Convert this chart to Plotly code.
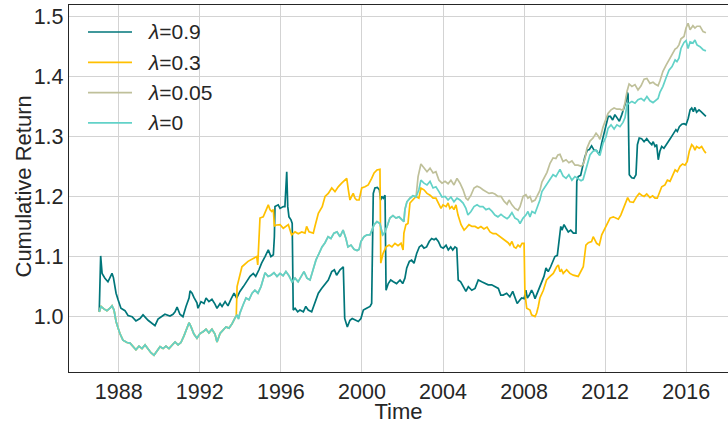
import plotly.graph_objects as go

# ---- data: cumulative return of four strategies (decimal years) ----
# lambda = 0  (also the common early path of lambda=0.3 and lambda=0.05)
t_l0 = [1987.04, 1987.13, 1987.27, 1987.42, 1987.57, 1987.67, 1987.77, 1987.87, 1987.97, 1988.06,
        1988.21, 1988.41, 1988.56, 1988.71, 1988.85, 1989.00, 1989.15, 1989.30, 1989.45, 1989.59,
        1989.74, 1989.89, 1990.04, 1990.19, 1990.33, 1990.48, 1990.63, 1990.78, 1990.93, 1991.07,
        1991.22, 1991.37, 1991.47, 1991.57, 1991.71, 1991.86, 1992.01, 1992.16, 1992.31, 1992.45,
        1992.60, 1992.75, 1992.85, 1993.00, 1993.15, 1993.29, 1993.44, 1993.59, 1993.74, 1993.84,
        1993.91, 1993.98, 1994.13, 1994.28, 1994.43, 1994.58, 1994.72, 1994.87, 1995.02, 1995.12,
        1995.22, 1995.37, 1995.51, 1995.66, 1995.81, 1995.96, 1996.11, 1996.25, 1996.40, 1996.55,
        1996.70, 1996.85, 1996.99, 1997.14, 1997.29, 1997.44, 1997.59, 1997.73, 1997.88, 1998.03,
        1998.18, 1998.33, 1998.47, 1998.62, 1998.77, 1998.92, 1999.07, 1999.21, 1999.31, 1999.46,
        1999.61, 1999.76, 1999.86, 1999.95, 2000.10, 2000.25, 2000.40, 2000.50, 2000.60, 2000.74,
        2000.89, 2001.02, 2001.09, 2001.24, 2001.38, 2001.53, 2001.68, 2001.83, 2001.98, 2002.07,
        2002.12, 2002.22, 2002.37, 2002.52, 2002.67, 2002.81, 2002.91, 2003.06, 2003.21, 2003.36,
        2003.51, 2003.65, 2003.80, 2003.95, 2004.10, 2004.25, 2004.39, 2004.54, 2004.69, 2004.84,
        2004.99, 2005.13, 2005.23, 2005.38, 2005.53, 2005.68, 2005.82, 2005.97, 2006.12, 2006.27,
        2006.42, 2006.56, 2006.71, 2006.86, 2007.01, 2007.16, 2007.26, 2007.40, 2007.55, 2007.70,
        2007.80, 2007.95, 2008.09, 2008.19, 2008.29, 2008.39, 2008.54, 2008.64, 2008.78, 2008.88,
        2009.03, 2009.13, 2009.28, 2009.43, 2009.57, 2009.67, 2009.77, 2009.92, 2010.07, 2010.21,
        2010.36, 2010.51, 2010.66, 2010.81, 2010.91, 2011.00, 2011.10, 2011.25, 2011.40, 2011.55,
        2011.65, 2011.74, 2011.89, 2012.04, 2012.14, 2012.29, 2012.44, 2012.58, 2012.73, 2012.88,
        2012.98, 2013.08, 2013.18, 2013.32, 2013.47, 2013.62, 2013.77, 2013.92, 2014.06, 2014.21,
        2014.36, 2014.46, 2014.61, 2014.70, 2014.85, 2015.00, 2015.15, 2015.30, 2015.45, 2015.54,
        2015.64, 2015.74, 2015.89, 2015.99, 2016.09, 2016.19, 2016.33, 2016.43, 2016.53, 2016.68,
        2016.83, 2016.97]
r_l0 = [1.008, 1.017, 1.013, 1.010, 1.014, 1.018, 1.011, 0.992, 0.981, 0.972,
        0.961, 0.957, 0.956, 0.950, 0.945, 0.951, 0.947, 0.953, 0.946, 0.940,
        0.936, 0.943, 0.950, 0.947, 0.951, 0.947, 0.953, 0.958, 0.953, 0.957,
        0.968, 0.983, 0.990, 0.983, 0.971, 0.964, 0.972, 0.975, 0.979, 0.973,
        0.979, 0.971, 0.958, 0.972, 0.978, 0.983, 0.981, 0.988, 0.998, 1.003,
        0.996, 1.006, 1.019, 1.031, 1.028, 1.039, 1.044, 1.039, 1.050, 1.061,
        1.073, 1.067, 1.069, 1.073, 1.067, 1.072, 1.068, 1.075, 1.068, 1.058,
        1.064, 1.058, 1.067, 1.075, 1.064, 1.061, 1.078, 1.094, 1.105, 1.116,
        1.123, 1.133, 1.130, 1.139, 1.141, 1.133, 1.144, 1.130, 1.116, 1.119,
        1.112, 1.110, 1.112, 1.125, 1.133, 1.136, 1.136, 1.145, 1.153, 1.158,
        1.155, 1.136, 1.138, 1.150, 1.164, 1.168, 1.164, 1.166, 1.161, 1.158,
        1.178, 1.191, 1.197, 1.201, 1.199, 1.211, 1.227, 1.222, 1.219, 1.225,
        1.214, 1.216, 1.208, 1.199, 1.200, 1.194, 1.199, 1.191, 1.197, 1.194,
        1.189, 1.180, 1.169, 1.175, 1.183, 1.186, 1.183, 1.183, 1.178, 1.180,
        1.175, 1.169, 1.166, 1.170, 1.166, 1.163, 1.166, 1.173, 1.164, 1.161,
        1.155, 1.164, 1.169, 1.175, 1.166, 1.175, 1.172, 1.180, 1.194, 1.208,
        1.216, 1.221, 1.230, 1.236, 1.233, 1.239, 1.245, 1.234, 1.230, 1.236,
        1.227, 1.233, 1.230, 1.226, 1.228, 1.239, 1.255, 1.269, 1.275, 1.277,
        1.272, 1.268, 1.288, 1.299, 1.313, 1.319, 1.312, 1.319, 1.316, 1.323,
        1.331, 1.353, 1.355, 1.358, 1.355, 1.361, 1.363, 1.359, 1.366, 1.359,
        1.356, 1.359, 1.363, 1.373, 1.383, 1.397, 1.410, 1.416, 1.427, 1.424,
        1.430, 1.446, 1.456, 1.459, 1.446, 1.457, 1.455, 1.460, 1.452, 1.449,
        1.444, 1.442]

# lambda = 0.05: follows lambda=0 until mid-2002, then its own path
t_l005_tail = [2002.77, 2002.91, 2003.06, 2003.21, 2003.36, 2003.51, 2003.65, 2003.80, 2003.95, 2004.10,
               2004.25, 2004.39, 2004.54, 2004.69, 2004.84, 2004.99, 2005.13, 2005.23, 2005.38, 2005.53,
               2005.68, 2005.82, 2005.97, 2006.12, 2006.27, 2006.42, 2006.56, 2006.71, 2006.86, 2007.01,
               2007.16, 2007.26, 2007.40, 2007.55, 2007.70, 2007.80, 2007.95, 2008.09, 2008.19, 2008.29,
               2008.39, 2008.54, 2008.64, 2008.78, 2008.88, 2009.03, 2009.13, 2009.28, 2009.43, 2009.57,
               2009.67, 2009.77, 2009.92, 2010.07, 2010.21, 2010.36, 2010.51, 2010.66, 2010.81, 2010.91,
               2011.00, 2011.10, 2011.25, 2011.40, 2011.55, 2011.65, 2011.74, 2011.89, 2012.04, 2012.14,
               2012.29, 2012.44, 2012.58, 2012.73, 2012.88, 2012.98, 2013.08, 2013.18, 2013.32, 2013.47,
               2013.62, 2013.77, 2013.92, 2014.06, 2014.21, 2014.36, 2014.46, 2014.61, 2014.70, 2014.85,
               2015.00, 2015.15, 2015.30, 2015.45, 2015.54, 2015.64, 2015.74, 2015.89, 2015.99, 2016.09,
               2016.19, 2016.33, 2016.43, 2016.53, 2016.68, 2016.83, 2016.97]
r_l005_tail = [1.233, 1.254, 1.247, 1.241, 1.247, 1.239, 1.241, 1.227, 1.222, 1.225,
               1.221, 1.227, 1.219, 1.230, 1.222, 1.211, 1.197, 1.194, 1.202, 1.214,
               1.217, 1.215, 1.211, 1.208, 1.205, 1.206, 1.204, 1.200, 1.200, 1.192,
               1.187, 1.194, 1.186, 1.180, 1.177, 1.183, 1.200, 1.203, 1.197, 1.200,
               1.191, 1.194, 1.200, 1.210, 1.224, 1.234, 1.240, 1.255, 1.264, 1.263,
               1.269, 1.270, 1.258, 1.261, 1.256, 1.259, 1.252, 1.252, 1.250, 1.253,
               1.262, 1.280, 1.292, 1.297, 1.305, 1.301, 1.295, 1.315, 1.330, 1.338,
               1.344, 1.347, 1.345, 1.345, 1.343, 1.356, 1.375, 1.387, 1.383, 1.386,
               1.377, 1.384, 1.395, 1.396, 1.388, 1.390, 1.387, 1.384, 1.392, 1.408,
               1.418, 1.427, 1.436, 1.445, 1.447, 1.452, 1.462, 1.466, 1.480, 1.488,
               1.477, 1.484, 1.480, 1.483, 1.483, 1.474, 1.472]

# lambda = 0.3: follows lambda=0 until late 1993, then its own path
t_l03_tail = [1993.80, 1993.84, 1994.08, 1994.38, 1994.63, 1994.81, 1994.86, 1994.92, 1994.97, 1995.13,
              1995.30, 1995.38, 1995.46, 1995.55, 1995.63, 1995.68, 1995.72, 1995.96, 1996.12, 1996.37,
              1996.53, 1996.70, 1996.86, 1997.03, 1997.19, 1997.27, 1997.39, 1997.60, 1997.68, 1997.85,
              1998.04, 1998.18, 1998.34, 1998.51, 1998.67, 1998.83, 1999.00, 1999.16, 1999.25, 1999.33,
              1999.41, 1999.49, 1999.57, 1999.66, 1999.74, 1999.86, 1999.99, 2000.15, 2000.31, 2000.48,
              2000.60, 2000.74, 2000.89, 2000.93, 2001.04, 2001.19, 2001.34, 2001.48, 2001.63, 2001.78,
              2001.93, 2002.03, 2002.07, 2002.17, 2002.27, 2002.37, 2002.52, 2002.67, 2002.81, 2002.91,
              2003.06, 2003.21, 2003.36, 2003.51, 2003.65, 2003.75, 2003.90, 2004.00, 2004.15, 2004.25,
              2004.34, 2004.44, 2004.54, 2004.64, 2004.74, 2004.89, 2005.04, 2005.13, 2005.28, 2005.43,
              2005.58, 2005.73, 2005.87, 2006.02, 2006.17, 2006.32, 2006.47, 2006.61, 2006.76, 2006.91,
              2007.06, 2007.21, 2007.30, 2007.40, 2007.50, 2007.60, 2007.70, 2007.80, 2007.90, 2008.00,
              2008.04, 2008.13, 2008.29, 2008.37, 2008.54, 2008.62, 2008.70, 2008.78, 2008.95, 2009.11,
              2009.28, 2009.44, 2009.61, 2009.69, 2009.77, 2009.85, 2009.93, 2010.10, 2010.26, 2010.43,
              2010.67, 2010.76, 2010.92, 2011.05, 2011.17, 2011.33, 2011.41, 2011.58, 2011.71, 2011.83,
              2011.99, 2012.07, 2012.24, 2012.40, 2012.57, 2012.65, 2012.77, 2012.89, 2013.03, 2013.11,
              2013.22, 2013.39, 2013.56, 2013.68, 2013.80, 2013.92, 2014.05, 2014.21, 2014.34, 2014.46,
              2014.57, 2014.67, 2014.79, 2014.95, 2015.07, 2015.20, 2015.33, 2015.45, 2015.56, 2015.69,
              2015.82, 2015.94, 2016.05, 2016.15, 2016.27, 2016.35, 2016.43, 2016.51, 2016.64, 2016.76,
              2016.88, 2016.97]
r_l03_tail = [1.001, 1.050, 1.083, 1.092, 1.097, 1.100, 1.086, 1.144, 1.164, 1.166,
              1.180, 1.186, 1.178, 1.175, 1.178, 1.150, 1.152, 1.153, 1.147, 1.153,
              1.136, 1.141, 1.138, 1.141, 1.139, 1.150, 1.141, 1.139, 1.150, 1.172,
              1.183, 1.200, 1.205, 1.214, 1.208, 1.216, 1.222, 1.227, 1.230, 1.211,
              1.194, 1.200, 1.205, 1.197, 1.194, 1.194, 1.214, 1.216, 1.219, 1.230,
              1.239, 1.244, 1.245, 1.089, 1.105, 1.116, 1.119, 1.116, 1.122, 1.118,
              1.122, 1.111, 1.139, 1.153, 1.155, 1.189, 1.194, 1.200, 1.197, 1.214,
              1.211, 1.205, 1.202, 1.197, 1.197, 1.189, 1.180, 1.186, 1.183, 1.189,
              1.180, 1.183, 1.178, 1.186, 1.169, 1.153, 1.144, 1.147, 1.153, 1.150,
              1.150, 1.147, 1.150, 1.146, 1.149, 1.141, 1.138, 1.138, 1.134, 1.130,
              1.127, 1.123, 1.119, 1.125, 1.116, 1.114, 1.119, 1.116, 1.122, 1.122,
              1.039, 1.014, 1.011, 1.003, 1.000, 1.006, 1.017, 1.031, 1.044, 1.061,
              1.067, 1.072, 1.083, 1.086, 1.075, 1.078, 1.072, 1.078, 1.072, 1.069,
              1.067, 1.072, 1.083, 1.119, 1.123, 1.125, 1.133, 1.122, 1.119, 1.136,
              1.147, 1.155, 1.164, 1.166, 1.164, 1.162, 1.169, 1.180, 1.191, 1.198,
              1.191, 1.190, 1.200, 1.205, 1.202, 1.200, 1.204, 1.198, 1.201, 1.197,
              1.197, 1.205, 1.216, 1.219, 1.227, 1.225, 1.236, 1.244, 1.241, 1.250,
              1.254, 1.252, 1.258, 1.275, 1.286, 1.283, 1.277, 1.283, 1.280, 1.283,
              1.276, 1.272]

# lambda = 0.9
t_l09 = [1987.04, 1987.11, 1987.18, 1987.32, 1987.47, 1987.67, 1987.74, 1987.87, 1987.97, 1988.11,
         1988.31, 1988.46, 1988.66, 1988.85, 1989.05, 1989.20, 1989.45, 1989.64, 1989.79, 1989.94,
         1990.14, 1990.28, 1990.53, 1990.68, 1990.78, 1990.88, 1991.02, 1991.17, 1991.32, 1991.47,
         1991.52, 1991.62, 1991.71, 1991.86, 1991.91, 1992.06, 1992.21, 1992.31, 1992.45, 1992.60,
         1992.75, 1992.85, 1993.00, 1993.10, 1993.25, 1993.39, 1993.54, 1993.69, 1993.82, 1993.98,
         1994.15, 1994.31, 1994.48, 1994.64, 1994.76, 1994.92, 1995.05, 1995.22, 1995.38, 1995.51,
         1995.63, 1995.68, 1995.71, 1995.87, 1995.96, 1996.12, 1996.20, 1996.29, 1996.34, 1996.40,
         1996.50, 1996.56, 1996.61, 1996.70, 1996.83, 1996.94, 1997.11, 1997.23, 1997.35, 1997.52,
         1997.68, 1997.85, 1998.01, 1998.18, 1998.34, 1998.51, 1998.64, 1998.75, 1998.92, 1999.08,
         1999.15, 1999.28, 1999.41, 1999.52, 1999.66, 1999.82, 1999.95, 2000.07, 2000.23, 2000.40,
         2000.48, 2000.56, 2000.64, 2000.76, 2000.86, 2000.93, 2000.97, 2001.05, 2001.14, 2001.19,
         2001.30, 2001.42, 2001.55, 2001.71, 2001.88, 2002.01, 2002.12, 2002.21, 2002.34, 2002.45,
         2002.57, 2002.70, 2002.83, 2002.95, 2003.06, 2003.19, 2003.32, 2003.44, 2003.56, 2003.65,
         2003.77, 2003.89, 2004.01, 2004.15, 2004.26, 2004.38, 2004.48, 2004.59, 2004.68, 2004.75,
         2004.87, 2005.00, 2005.13, 2005.25, 2005.42, 2005.58, 2005.74, 2005.91, 2006.07, 2006.23,
         2006.40, 2006.56, 2006.73, 2006.85, 2006.97, 2007.14, 2007.30, 2007.44, 2007.55, 2007.66,
         2007.80, 2007.88, 2008.00, 2008.09, 2008.16, 2008.26, 2008.37, 2008.45, 2008.54, 2008.65,
         2008.75, 2008.87, 2008.98, 2009.08, 2009.19, 2009.31, 2009.44, 2009.52, 2009.64, 2009.74,
         2009.81, 2009.87, 2009.97, 2010.07, 2010.18, 2010.30, 2010.43, 2010.56, 2010.60, 2010.67,
         2010.79, 2010.89, 2011.00, 2011.12, 2011.22, 2011.33, 2011.45, 2011.58, 2011.71, 2011.83,
         2011.91, 2012.04, 2012.15, 2012.26, 2012.37, 2012.48, 2012.60, 2012.70, 2012.82, 2012.93,
         2013.03, 2013.09, 2013.13, 2013.16, 2013.19, 2013.31, 2013.42, 2013.52, 2013.59, 2013.68,
         2013.80, 2013.92, 2014.05, 2014.18, 2014.30, 2014.37, 2014.46, 2014.54, 2014.62, 2014.70,
         2014.79, 2014.90, 2015.00, 2015.11, 2015.23, 2015.36, 2015.49, 2015.56, 2015.66, 2015.78,
         2015.89, 2015.99, 2016.10, 2016.19, 2016.27, 2016.35, 2016.43, 2016.51, 2016.63, 2016.73,
         2016.84, 2016.97]
r_l09 = [1.008, 1.101, 1.072, 1.064, 1.058, 1.072, 1.065, 1.039, 1.028, 1.014,
         1.010, 1.002, 1.000, 0.993, 0.997, 1.003, 0.994, 0.989, 0.985, 0.996,
         1.000, 1.004, 1.001, 1.004, 1.008, 1.016, 1.004, 1.000, 1.017, 1.031,
         1.043, 1.039, 1.032, 1.023, 1.014, 1.025, 1.022, 1.031, 1.025, 1.029,
         1.021, 1.014, 1.022, 1.017, 1.025, 1.018, 1.029, 1.039, 1.031, 1.042,
         1.050, 1.058, 1.067, 1.072, 1.067, 1.078, 1.089, 1.100, 1.111, 1.100,
         1.103, 1.133, 1.183, 1.186, 1.180, 1.183, 1.183, 1.241, 1.183, 1.166,
         1.161, 1.155, 1.011, 1.014, 1.008, 1.011, 1.008, 1.017, 1.011, 1.008,
         1.022, 1.039, 1.047, 1.055, 1.061, 1.075, 1.078, 1.069, 1.078, 1.083,
         0.997, 0.983, 0.994, 0.997, 0.994, 0.992, 0.997, 1.011, 1.014, 1.017,
         1.022, 1.205, 1.214, 1.215, 1.211, 1.194, 1.200, 1.197, 1.202, 1.044,
         1.055, 1.061, 1.058, 1.055, 1.061, 1.055, 1.064, 1.081, 1.092, 1.094,
         1.089, 1.105, 1.116, 1.119, 1.114, 1.116, 1.125, 1.130, 1.128, 1.130,
         1.125, 1.116, 1.114, 1.119, 1.111, 1.116, 1.111, 1.116, 1.114, 1.061,
         1.058, 1.050, 1.042, 1.050, 1.044, 1.047, 1.061, 1.058, 1.055, 1.053,
         1.053, 1.050, 1.047, 1.036, 1.036, 1.039, 1.033, 1.042, 1.033, 1.022,
         1.028, 1.031, 1.030, 1.044, 1.031, 1.036, 1.044, 1.039, 1.030, 1.039,
         1.050, 1.058, 1.067, 1.081, 1.075, 1.083, 1.094, 1.100, 1.102, 1.128,
         1.150, 1.144, 1.153, 1.147, 1.141, 1.144, 1.139, 1.139, 1.225, 1.233,
         1.235, 1.250, 1.266, 1.277, 1.278, 1.284, 1.277, 1.276, 1.269, 1.289,
         1.300, 1.322, 1.333, 1.333, 1.327, 1.336, 1.330, 1.325, 1.336, 1.347,
         1.358, 1.373, 1.370, 1.297, 1.236, 1.231, 1.230, 1.236, 1.286, 1.297,
         1.296, 1.291, 1.296, 1.290, 1.286, 1.291, 1.283, 1.286, 1.261, 1.275,
         1.283, 1.280, 1.286, 1.291, 1.297, 1.305, 1.311, 1.308, 1.316, 1.320,
         1.321, 1.319, 1.330, 1.344, 1.347, 1.341, 1.348, 1.340, 1.344, 1.341,
         1.338, 1.333]

# assemble full series for the two strategies that share the lambda=0 start
n03 = sum(1 for t in t_l0 if t < 1993.80)
t_l03 = t_l0[:n03] + t_l03_tail
r_l03 = r_l0[:n03] + r_l03_tail
n005 = sum(1 for t in t_l0 if t <= 2002.67)
t_l005 = t_l0[:n005] + t_l005_tail
r_l005 = r_l0[:n005] + r_l005_tail

series_names = ["λ=0.9", "λ=0.3", "λ=0.05", "λ=0"]
series_labels = ["<i>λ</i>=0.9", "<i>λ</i>=0.3", "<i>λ</i>=0.05", "<i>λ</i>=0"]
series_colors = ["#00767a", "#ffc000", "#bfc09a", "#62d2c8"]
series_t = [t_l09, t_l03, t_l005, t_l0]
series_r = [r_l09, r_l03, r_l005, r_l0]

x_tick_years = [1988, 1992, 1996, 2000, 2004, 2008, 2012, 2016]
y_tick_vals = [1.0, 1.1, 1.2, 1.3, 1.4, 1.5]
y_tick_text = ["1.0", "1.1", "1.2", "1.3", "1.4", "1.5"]

# ---- figure ----
fig = go.Figure()
for name, c, t, r in zip(series_names, series_colors, series_t, series_r):
    fig.add_trace(go.Scatter(x=t, y=r, mode="lines", name=name,
                             line=dict(color=c, width=1.7), showlegend=False))

W, H = 728, 424
ML, MR, MT, MB = 69, 0, 5, 52
pw, ph = W - ML - MR, H - MT - MB

def px_x(p):
    return (p - ML) / pw

def px_y(p):
    return (H - MB - p) / ph

text_col = "#262626"
font_family = "Liberation Sans, Arial, sans-serif"

# legend (upper-left, drawn as line samples with text)
for i, (lab, c) in enumerate(zip(series_labels, series_colors)):
    yy = px_y(32 + 30.3 * i)
    fig.add_shape(type="line", xref="paper", yref="paper",
                  x0=px_x(88), x1=px_x(132), y0=yy, y1=yy,
                  line=dict(color=c, width=1.7))
    fig.add_annotation(xref="paper", yref="paper", x=px_x(146), y=yy,
                       text=lab, showarrow=False, xanchor="left", yanchor="middle",
                       font=dict(size=21, color=text_col, family=font_family))

# y-axis title
fig.add_annotation(xref="paper", yref="paper", x=px_x(22.5), y=px_y(187),
                   text="Cumulative Return", textangle=-90, showarrow=False,
                   xanchor="center", yanchor="middle",
                   font=dict(size=22, color=text_col, family=font_family))

fig.update_layout(
    width=W, height=H,
    margin=dict(l=ML, r=MR, t=MT, b=MB),
    paper_bgcolor="white", plot_bgcolor="white",
    font=dict(family=font_family, color=text_col, size=21),
    showlegend=False,
)
fig.update_xaxes(
    range=[1985.548, 2018.06],
    tickvals=x_tick_years, ticktext=[str(v) for v in x_tick_years],
    showgrid=True, gridcolor="#d3d3d3", gridwidth=1.2,
    showline=True, mirror=True, linecolor=text_col, linewidth=1.3,
    ticks="", zeroline=False,
    tickfont=dict(size=21.5, color=text_col),
    title=dict(text="Time", font=dict(size=22, color=text_col), standoff=2),
)
fig.update_yaxes(
    range=[0.908, 1.5183],
    tickvals=y_tick_vals, ticktext=y_tick_text,
    showgrid=True, gridcolor="#d3d3d3", gridwidth=1.2,
    showline=True, mirror=False, linecolor=text_col, linewidth=1.3,
    ticks="", zeroline=False,
    tickfont=dict(size=21.5, color=text_col),
)

fig.write_html("out.html")
